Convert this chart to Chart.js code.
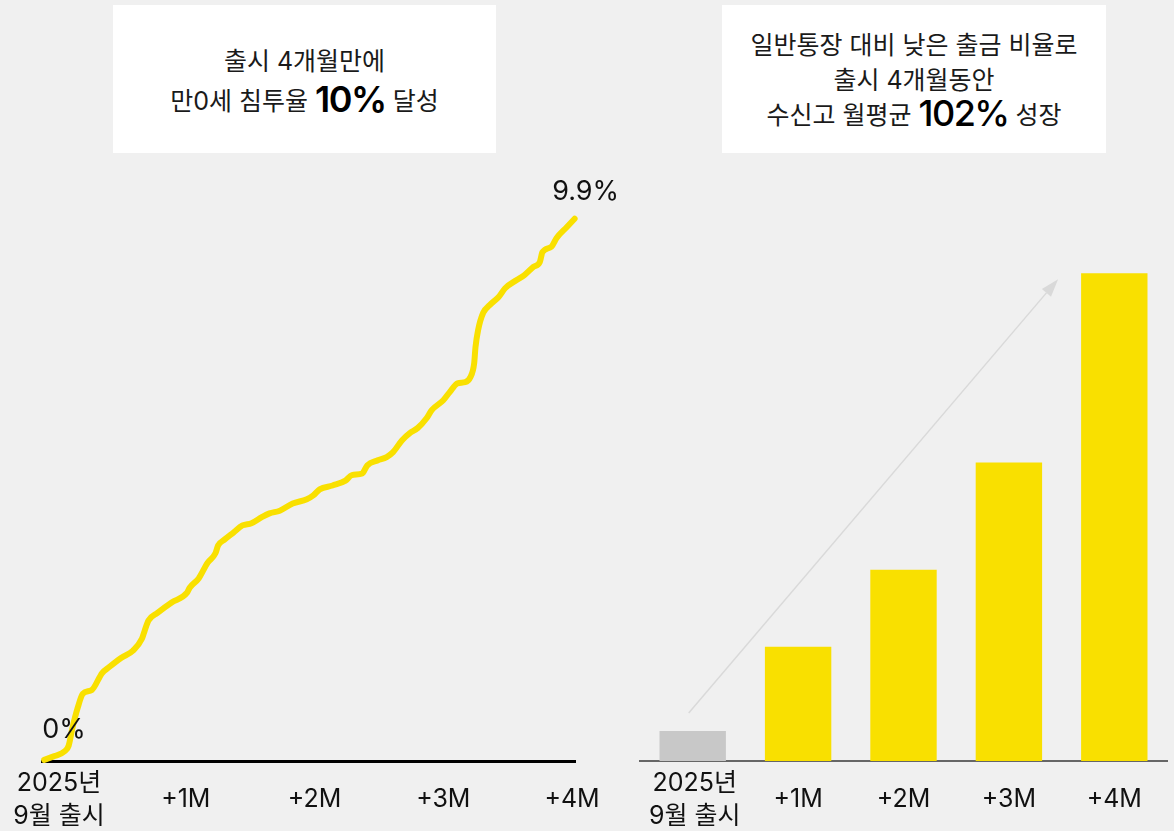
<!DOCTYPE html>
<html>
<head>
<meta charset="utf-8">
<script src="https://cdn.jsdelivr.net/npm/chart.js@4.4.1/dist/chart.umd.min.js"></script>
<style>
  html, body { margin: 0; padding: 0; }
  body {
    width: 1174px; height: 831px; background: #f0f0f0; position: relative; overflow: hidden;
    font-family: Inter, "Noto Sans CJK KR", sans-serif; color: #1a1a1a;
  }
  .box {
    position: absolute; top: 5px; height: 148px; background: #fff;
    display: flex; flex-direction: column; justify-content: center; align-items: center;
    font-size: 25px; line-height: 1.4;
  }
  .box div { white-space: nowrap; }
  .big { font-size: 36px; letter-spacing: -1.5px; vertical-align: -2px; color: #000; line-height: 1; }
  #boxLeft { left: 113px; width: 383px; }
  #boxLeft .l1 { margin-top: 4px; }
  #boxLeft .l2 { margin-top: 2px; }
  #boxRight { left: 722px; width: 384px; }
  #boxRight .l3 { line-height: 1.2; margin-top: -3px; }
  .wrap { position: absolute; top: 160px; height: 671px; }
  #wrapLeft { left: 0; width: 620px; }
  #wrapRight { left: 620px; width: 554px; }
</style>
</head>
<body>
<div class="box" id="boxLeft">
  <div class="l1">출시 4개월만에</div>
  <div class="l2">만0세 침투율 <span class="big" style="font-weight:600">10%</span> 달성</div>
</div>
<div class="box" id="boxRight">
  <div>일반통장 대비 낮은 출금 비율로</div>
  <div>출시 4개월동안</div>
  <div class="l3">수신고 월평균 <span class="big" style="font-weight:500">102%</span> 성장</div>
</div>
<div class="wrap" id="wrapLeft"><canvas id="penChart"></canvas></div>
<div class="wrap" id="wrapRight"><canvas id="depositChart"></canvas></div>

<script>
// x tick labels (months since launch)
const monthLabels = [['2025년', '9월 출시'], '+1M', '+2M', '+3M', '+4M'];

// penetration rate among age-0 (%), x = months since launch
const penX = [-0.10, -0.02, 0.06, 0.09, 0.12, 0.16, 0.20, 0.27, 0.35, 0.40, 0.50, 0.59, 0.66, 0.68, 0.71,
  0.78, 0.89, 1.01, 1.03, 1.10, 1.17, 1.23, 1.25, 1.30, 1.37, 1.44, 1.51, 1.59, 1.65, 1.73, 1.83, 1.94,
  1.99, 2.04, 2.14, 2.24, 2.29, 2.37, 2.41, 2.49, 2.56, 2.61, 2.68, 2.74, 2.80, 2.87, 2.91, 3.00, 3.05,
  3.11, 3.17, 3.21, 3.24, 3.25, 3.27, 3.31, 3.36, 3.43, 3.48, 3.57, 3.63, 3.70, 3.75, 3.77, 3.84, 3.88,
  3.96, 4.02];
const penY = [0, 0.07, 0.16, 0.26, 0.59, 0.95, 1.21, 1.28, 1.59, 1.69, 1.87, 2.00, 2.22, 2.36, 2.55,
  2.69, 2.88, 3.06, 3.15, 3.32, 3.61, 3.78, 3.92, 4.03, 4.16, 4.29, 4.33, 4.44, 4.51, 4.56, 4.69, 4.77,
  4.84, 4.95, 5.02, 5.11, 5.21, 5.24, 5.39, 5.48, 5.54, 5.63, 5.85, 5.98, 6.07, 6.25, 6.40, 6.58, 6.73,
  6.89, 6.91, 7.00, 7.26, 7.55, 7.86, 8.18, 8.32, 8.47, 8.63, 8.78, 8.87, 9.02, 9.11, 9.29, 9.39, 9.55,
  9.75, 9.9];

// deposit balance, relative index
const depositValues = [30, 114, 191, 298, 487];

const FONT = 'Inter, "Noto Sans CJK KR", sans-serif';
const YELLOW = '#f9e000';

// draws x tick labels below the axis; two-line labels stacked, single ones centred
const tickLabelPlugin = {
  id: 'tickLabels',
  afterDraw(chart) {
    const scale = chart.scales.x;
    const ctx = chart.ctx;
    const base = chart.chartArea.bottom;
    ctx.save();
    ctx.font = '25px ' + FONT;
    ctx.fillStyle = '#111';
    ctx.textAlign = 'center';
    ctx.textBaseline = 'middle';
    scale.ticks.forEach((t, i) => {
      const x = scale.getPixelForTick(i);
      const lab = monthLabels[i];
      if (Array.isArray(lab)) {
        ctx.fillText(lab[0], x + 2, base + 22);
        ctx.fillText(lab[1], x + 2, base + 55);
      } else {
        ctx.fillText(lab, x, base + 38);
      }
    });
    ctx.restore();
  }
};

// label at first and last points of the line
const endLabelPlugin = {
  id: 'endLabels',
  afterDatasetsDraw(chart) {
    const pts = chart.getDatasetMeta(0).data;
    const first = pts[0], last = pts[pts.length - 1];
    const ctx = chart.ctx;
    ctx.save();
    ctx.font = '27px ' + FONT;
    ctx.fillStyle = '#111';
    ctx.textBaseline = 'middle';
    ctx.textAlign = 'left';
    ctx.fillText(penY[0] + '%', first.x - 2, first.y - 30);
    ctx.textAlign = 'center';
    ctx.fillText(penY[penY.length - 1] + '%', last.x + 11, last.y - 27);
    ctx.restore();
  }
};

new Chart(document.getElementById('penChart'), {
  type: 'line',
  data: {
    datasets: [{
      data: penX.map((x, i) => ({ x: x, y: penY[i] })),
      borderColor: YELLOW,
      borderWidth: 6,
      borderCapStyle: 'round',
      borderJoinStyle: 'round',
      pointRadius: 0,
      tension: 0.4,
      cubicInterpolationMode: 'monotone',
      clip: false
    }]
  },
  options: {
    responsive: true,
    maintainAspectRatio: false,
    animation: false,
    layout: { padding: { left: 42, right: 45, top: 20, bottom: 70 } },
    plugins: { legend: { display: false }, tooltip: { enabled: false } },
    scales: {
      x: {
        type: 'linear',
        min: -0.117,
        max: 4.023,
        afterBuildTicks: (scale) => { scale.ticks = [0, 1, 2, 3, 4].map(v => ({ value: v })); },
        grid: { display: false, drawTicks: false },
        border: { display: true, color: '#000', width: 3 },
        ticks: { display: false }
      },
      y: { display: false, min: -0.02, max: 10.61 }
    }
  },
  plugins: [endLabelPlugin, tickLabelPlugin]
});

// trend arrow from first bar to last bar
const arrowPlugin = {
  id: 'trendArrow',
  afterDatasetsDraw(chart) {
    const bars = chart.getDatasetMeta(0).data;
    const b0 = bars[0], bn = bars[bars.length - 1];
    const sx = b0.x - 4, sy = b0.y - 18;
    const tx = bn.x - bn.width / 2 - 23, ty = bn.y + 6;
    const ang = Math.atan2(ty - sy, tx - sx);
    const len = 18, half = 6;
    const bx = tx - len * Math.cos(ang), by = ty - len * Math.sin(ang);
    const ctx = chart.ctx;
    ctx.save();
    ctx.strokeStyle = '#d9d9d9';
    ctx.fillStyle = '#d9d9d9';
    ctx.lineWidth = 1.5;
    ctx.beginPath();
    ctx.moveTo(sx, sy);
    ctx.lineTo(bx, by);
    ctx.stroke();
    ctx.beginPath();
    ctx.moveTo(tx, ty);
    ctx.lineTo(bx + half * Math.sin(ang), by - half * Math.cos(ang));
    ctx.lineTo(bx - half * Math.sin(ang), by + half * Math.cos(ang));
    ctx.closePath();
    ctx.fill();
    ctx.restore();
  }
};

new Chart(document.getElementById('depositChart'), {
  type: 'bar',
  data: {
    labels: monthLabels,
    datasets: [{
      data: depositValues,
      backgroundColor: depositValues.map((v, i) => i === 0 ? '#c8c8c8' : YELLOW),
      borderWidth: 0,
      barPercentage: 0.63,
      categoryPercentage: 1
    }]
  },
  options: {
    responsive: true,
    maintainAspectRatio: false,
    animation: false,
    layout: { padding: { left: 20, right: 7, top: 20, bottom: 70 } },
    plugins: { legend: { display: false }, tooltip: { enabled: false } },
    scales: {
      x: {
        grid: { display: false, drawTicks: false },
        border: { display: true, color: '#666', width: 2 },
        ticks: { display: false }
      },
      y: { display: false, min: 0, max: 580 }
    }
  },
  plugins: [arrowPlugin, tickLabelPlugin]
});
</script>
</body>
</html>
